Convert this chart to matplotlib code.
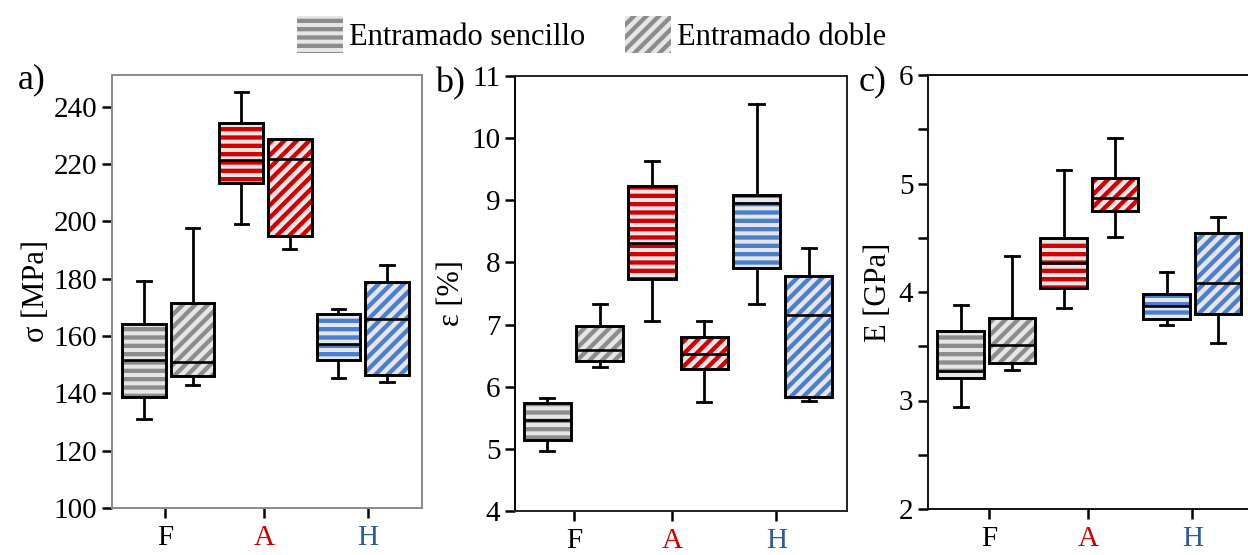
import numpy as np
import matplotlib
matplotlib.use('Agg')
import matplotlib.pyplot as plt
import matplotlib.hatch as mhatch
from matplotlib.patches import Patch, PathPatch

# ---------------- data ----------------
groups = ['F', 'A', 'H']
series = ['Entramado sencillo', 'Entramado doble']
# box order: F-sencillo, F-doble, A-sencillo, A-doble, H-sencillo, H-doble
sigma_whislo = [131.0, 142.9, 199.0, 190.2, 145.5, 143.8]
sigma_q1     = [138.8, 145.9, 213.2, 195.0, 151.5, 146.5]
sigma_med    = [151.5, 151.0, 221.4, 221.8, 157.3, 165.9]
sigma_q3     = [164.1, 171.5, 234.4, 228.8, 167.7, 178.7]
sigma_whishi = [179.2, 197.6, 245.2, 228.8, 169.5, 184.8]

eps_whislo = [4.96, 6.31, 7.05, 5.76, 7.33, 5.77]
eps_q1     = [5.15, 6.41, 7.74, 6.28, 7.91, 5.84]
eps_med    = [5.46, 6.59, 8.31, 6.52, 8.96, 7.16]
eps_q3     = [5.73, 6.98, 9.23, 6.80, 9.08, 7.78]
eps_whishi = [5.82, 7.33, 9.63, 7.06, 10.55, 8.24]

E_whislo = [2.94, 3.28, 3.85, 4.51, 3.70, 3.53]
E_q1     = [3.21, 3.35, 4.04, 4.75, 3.75, 3.80]
E_med    = [3.27, 3.51, 4.27, 4.87, 3.87, 4.08]
E_q3     = [3.64, 3.76, 4.50, 5.05, 3.98, 4.54]
E_whishi = [3.88, 4.33, 5.12, 5.42, 4.18, 4.69]

# ---------------- styling ----------------
plt.rcParams['font.family'] = ['Liberation Serif', 'DejaVu Serif']
plt.rcParams['hatch.linewidth'] = 3.1


class DenseHorizontal(mhatch.HorizontalHatch):
    def __init__(self, hatch, density):
        super().__init__(hatch, density)
        self.num_lines = int((hatch.count('-') + hatch.count('+')) * density * 2)
        self.num_vertices = self.num_lines * 2


class DenseNorthEast(mhatch.NorthEastHatch):
    def __init__(self, hatch, density):
        super().__init__(hatch, density)
        self.num_lines = int((hatch.count('/') + hatch.count('x') + hatch.count('X')) * density * 8 / 3)
        self.num_vertices = (self.num_lines + 1) * 2 if self.num_lines else 0


mhatch._hatch_types = [DenseHorizontal if t is mhatch.HorizontalHatch else
                       DenseNorthEast if t is mhatch.NorthEastHatch else t
                       for t in mhatch._hatch_types]

group_colors = ['#8c8c8c', '#d40000', '#4a7fd0']
tick_colors = ['black', '#cc0000', '#2e5d91']
hatches = ['-', '/']
FILL = '#e6e6e6'
FS_TICK = 21
FS_LAB = 22

W, H = 1248, 555
fig = plt.figure(figsize=(W / 100, H / 100), dpi=100)


def px_axes(l, t, r, b):
    return fig.add_axes([l / W, 1 - b / H, (r - l) / W, (b - t) / H])


def draw_panel(ax, whislo, q1, med, q3, whishi, xlim, ylim, xticks, spine_color):
    stats = []
    for i in range(len(med)):
        stats.append(dict(whislo=whislo[i], q1=q1[i], med=med[i], q3=q3[i],
                          whishi=whishi[i], fliers=[]))
    positions = np.arange(1, len(med) + 1)
    bp = ax.bxp(stats, positions=positions, widths=0.9, patch_artist=True,
                showfliers=False, capwidths=0.27,
                boxprops=dict(linewidth=0),
                medianprops=dict(color='black', linewidth=1.9, solid_capstyle='butt'),
                whiskerprops=dict(color='black', linewidth=2.0),
                capprops=dict(color='black', linewidth=2.0))
    for i, box in enumerate(bp['boxes']):
        c = group_colors[i // 2]
        box.set_facecolor(FILL)
        box.set_edgecolor(c)
        box.set_hatch(hatches[i % 2])
        box.set_linewidth(0)
        box.set_zorder(2)
        ax.add_patch(PathPatch(box.get_path(), fill=False, edgecolor='black',
                               linewidth=2.1, zorder=2.5))
    for m in bp['medians']:
        m.set_zorder(3)
    ax.set_xlim(*xlim)
    ax.set_ylim(*ylim)
    ax.set_xticks(xticks)
    ax.set_xticklabels(groups)
    for lab, c in zip(ax.get_xticklabels(), tick_colors):
        lab.set_color(c)
    ax.tick_params(axis='both', which='major', labelsize=FS_TICK, length=7,
                   width=1.8, color='black', direction='out')
    ax.tick_params(axis='x', pad=5)
    for s in ax.spines.values():
        s.set_color(spine_color)
        s.set_linewidth(1.4)


# panel a
ax1 = px_axes(112, 75, 422, 508)
draw_panel(ax1, sigma_whislo, sigma_q1, sigma_med, sigma_q3, sigma_whishi,
           (0.342, 6.72), (100, 251), [1.43, 3.47, 5.61], '#8a8a8a')
ax1.set_yticks(np.arange(100, 241, 20))
ax1.set_ylabel('σ [MPa]', fontsize=FS_LAB, labelpad=2)

# panel b
ax2 = px_axes(515, 76, 847, 511)
draw_panel(ax2, eps_whislo, eps_q1, eps_med, eps_q3, eps_whishi,
           (0.38, 6.73), (4, 11), [1.51, 3.38, 5.38], '#222222')
ax2.set_yticks(np.arange(4, 12, 1))
ax2.set_ylabel('ε [%]', fontsize=FS_LAB, labelpad=4)
ax2.spines['left'].set_color('black')

# panel c
ax3 = px_axes(928, 75, 1254, 509)
draw_panel(ax3, E_whislo, E_q1, E_med, E_q3, E_whishi,
           (0.366, 6.70), (2, 6), [1.56, 3.48, 5.5], '#111111')
ax3.set_yticks(np.arange(2, 7, 1))
ax3.set_yticks(np.arange(2.5, 6, 1), minor=True)
ax3.tick_params(axis='y', which='minor', length=7, width=1.8, color='black')
ax3.set_ylabel('E [GPa]', fontsize=FS_LAB, labelpad=4)

# panel letters
fig.text(18 / W, 1 - 80 / H, 'a)', fontsize=26, va='center', ha='left')
fig.text(435 / W, 1 - 84 / H, 'b)', fontsize=26, va='center', ha='left')
fig.text(859 / W, 1 - 82 / H, 'c)', fontsize=26, va='center', ha='left')

# legend
handles = [Patch(facecolor=FILL, edgecolor=group_colors[0], hatch=hatches[k],
                 linewidth=0) for k in range(2)]
fig.legend(handles, series, loc='upper center', bbox_to_anchor=(0.474, 1.01),
           ncol=2, frameon=False, fontsize=FS_LAB, handlelength=1.5, handleheight=1.5,
           handletextpad=0.2, columnspacing=1.3, borderaxespad=0.3)

fig.savefig('out.png', dpi=100)
